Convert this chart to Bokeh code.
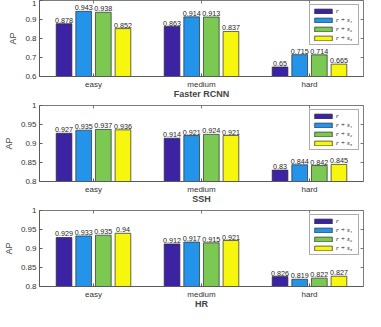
import math
from bokeh.plotting import figure
from bokeh.layouts import column
from bokeh.models import ColumnDataSource, FixedTicker, Range1d, Legend, LegendItem
from bokeh.core.properties import value
from bokeh.embed import file_html
from bokeh.resources import INLINE

categories = ["easy", "medium", "hard"]
series_names = ["r", "r + s\u2081", "r + s\u2082", "r + s\u2083"]
colors = ["#3B23A4", "#2394EA", "#7BC852", "#F6F60E"]

panel_titles = ["Faster RCNN", "SSH", "HR"]
frcnn = [[0.878, 0.863, 0.65], [0.943, 0.914, 0.715], [0.938, 0.913, 0.714], [0.852, 0.837, 0.665]]
ssh = [[0.927, 0.914, 0.83], [0.935, 0.921, 0.844], [0.937, 0.924, 0.842], [0.936, 0.921, 0.845]]
hr = [[0.929, 0.912, 0.826], [0.933, 0.917, 0.819], [0.935, 0.915, 0.822], [0.94, 0.921, 0.827]]
panel_data = [frcnn, ssh, hr]

y_ranges = [(0.6, 1.0), (0.8, 1.0), (0.8, 1.0)]
y_ticks = [[0.6, 0.7, 0.8, 0.9, 1.0], [0.8, 0.85, 0.9, 0.95, 1.0], [0.8, 0.85, 0.9, 0.95, 1.0]]
y_tick_labels = [["0.6", "0.7", "0.8", "0.9", "1"], ["0.8", "0.85", "0.9", "0.95", "1"], ["0.8", "0.85", "0.9", "0.95", "1"]]

FONT = "Liberation Sans"
AXC = "#5a5a5a"
group_w = 4 / 5.5
pitch = group_w / 4
bar_w = pitch * 0.8
xs_cat = [1, 2, 3]
x_lim = (0.5, 3.5)

heights = [101, 105, 105]
tops = [0, 4, 4]

figs = []
for k in range(3):
    p = figure(width=365, height=heights[k], output_backend="svg", toolbar_location=None,
               x_range=Range1d(*x_lim), y_range=Range1d(*y_ranges[k]),
               min_border_left=24, min_border_right=2, min_border_top=tops[k], min_border_bottom=0)
    p.grid.visible = False
    p.outline_line_color = AXC
    p.outline_line_width = 0.8
    p.background_fill_color = "white"
    p.border_fill_color = "white"

    items = []
    for j in range(4):
        vals = panel_data[k][j]
        xs = [c + (j - 1.5) * pitch for c in xs_cat]
        src = ColumnDataSource(dict(x=xs, top=vals, lab=[str(v) for v in vals]))
        r = p.vbar(x="x", top="top", bottom=0, width=bar_w, source=src,
                   fill_color=colors[j], line_color="#2a2a2a", line_width=0.7)
        p.text(x="x", y="top", text="lab", source=src, text_align="center",
               text_baseline="bottom", y_offset=-1, text_font=value(FONT),
               text_font_size="7.2px", text_color="#222222")
        items.append(LegendItem(label=series_names[j], renderers=[r]))

    p.scatter(x=[x_lim[1]] * len(y_ticks[k]), y=y_ticks[k], marker="dash", size=6,
              line_color=AXC, line_width=0.8)
    p.scatter(x=xs_cat, y=[y_ranges[k][1]] * len(xs_cat), marker="dash", angle=math.pi / 2,
              size=6, line_color=AXC, line_width=0.8)

    leg = Legend(items=items, location="top_right", glyph_width=22, glyph_height=6,
                 label_height=6, label_text_font="Liberation Serif", label_text_font_style="italic",
                 label_text_font_size="7px", label_standoff=2, spacing=1, padding=2,
                 margin=4, border_line_color=AXC, border_line_width=0.8,
                 label_text_line_height=1.0, label_text_color="#111111")
    p.add_layout(leg, "center")

    xa = p.xaxis[0]
    xa.ticker = FixedTicker(ticks=xs_cat)
    xa.major_label_overrides = {i + 1: c for i, c in enumerate(categories)}
    xa.axis_label = panel_titles[k]
    xa.axis_label_text_font = FONT
    xa.axis_label_text_font_style = "bold"
    xa.axis_label_text_font_size = "9px"
    xa.axis_label_standoff = -3
    xa.major_label_standoff = 3

    ya = p.yaxis[0]
    ya.ticker = FixedTicker(ticks=y_ticks[k])
    ya.major_label_overrides = {t: l for t, l in zip(y_ticks[k], y_tick_labels[k])}
    ya.axis_label = "AP"
    ya.axis_label_text_font = FONT
    ya.axis_label_text_font_style = "normal"
    ya.axis_label_text_font_size = "9px"
    ya.axis_label_standoff = 4
    ya.major_label_standoff = 3

    for ax in (xa, ya):
        ax.major_tick_in = 3
        ax.major_tick_out = 0
        ax.minor_tick_line_color = None
        ax.axis_line_color = AXC
        ax.major_tick_line_color = AXC
        ax.major_label_text_font = FONT
        ax.major_label_text_font_size = "8px"
        ax.major_label_text_color = "#333333"
    figs.append(p)

layout = column(*figs, spacing=0)
open("out.html", "w").write(file_html(layout, INLINE))
